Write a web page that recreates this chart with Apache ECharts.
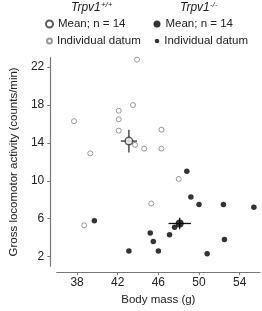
<!DOCTYPE html>
<html>
<head>
<meta charset="utf-8">
<script src="https://cdn.jsdelivr.net/npm/echarts@6/dist/echarts.min.js"></script>
<style>
  html, body { margin: 0; padding: 0; background: #fff; }
  #chart { width: 262px; height: 311px; }
</style>
</head>
<body>
<div id="chart"></div>
<script>
// Trpv1+/+ individual datum: [body mass (g), activity (counts/min)]
var wtPoints = [
  [37.7, 16.3], [39.3, 12.9], [42.1, 17.4], [42.1, 16.5], [42.1, 15.3],
  [43.5, 18.0], [43.9, 22.8], [43.7, 13.8], [44.6, 13.4], [46.3, 15.4],
  [46.3, 13.4], [48.0, 10.2], [45.3, 7.6], [38.7, 5.3]
];
// Trpv1-/- individual datum
var koPoints = [
  [48.8, 11.0], [49.2, 8.3], [50.0, 7.5], [52.4, 7.5], [55.4, 7.2],
  [47.6, 5.1], [47.1, 4.3], [45.2, 4.5], [45.5, 3.6], [46.0, 2.6],
  [43.1, 2.6], [52.5, 3.8], [50.8, 2.3], [39.7, 5.8]
];
// means: [x, y, xErr, yErr]
var wtMean = [43.1, 14.2, 0.8, 1.2];
var koMean = [48.1, 5.5, 1.1, 0.6];

var xTicks = [38, 42, 46, 50, 54];
var yTicks = [2, 6, 10, 14, 18, 22];

var legendNames = {
  wtMean: 'Mean; n = 14', wtInd: 'Individual datum',
  koMean: 'Mean; n = 14', koInd: 'Individual datum'
};

var chart = echarts.init(document.getElementById('chart'));

function errBar(color) {
  return function (params, api) {
    var x = api.value(0), y = api.value(1), ex = api.value(2), ey = api.value(3);
    var l = api.coord([x - ex, y]), r = api.coord([x + ex, y]);
    var t = api.coord([x, y + ey]), b = api.coord([x, y - ey]);
    var st = { stroke: color, lineWidth: 1.3 };
    return {
      type: 'group',
      children: [
        { type: 'line', shape: { x1: l[0], y1: l[1], x2: r[0], y2: r[1] }, style: st },
        { type: 'line', shape: { x1: t[0], y1: t[1], x2: b[0], y2: b[1] }, style: st }
      ]
    };
  };
}

var font = 'Liberation Sans, Arial, sans-serif';

function genoTitle(left, sup) {
  return {
    left: left, top: 1, padding: 0,
    text: '{a|Trpv1}{s|' + sup + '}',
    textStyle: {
      rich: {
        a: { fontFamily: font, fontStyle: 'italic', fontWeight: 'normal', fontSize: 12, color: '#222' },
        s: { fontFamily: font, fontStyle: 'italic', fontWeight: 'normal', fontSize: 8, color: '#222', verticalAlign: 'top', padding: [0, 0, 6, 0] }
      }
    }
  };
}

function legendRow(left, top, name, size) {
  return {
    left: left - size / 2, top: top, padding: 0, orient: 'horizontal',
    itemWidth: size, itemHeight: size, itemGap: 0,
    data: [name],
    formatter: function (n) { return legendNames[n]; },
    textStyle: { fontSize: 11.5, color: '#222', fontFamily: font }
  };
}

chart.setOption({
  animation: false,
  textStyle: { fontFamily: font },
  title: [genoTitle(71, '+/+'), genoTitle(180, '-/-')],
  legend: [
    legendRow(48.5, 18, 'wtMean', 7),
    legendRow(48.5, 35, 'wtInd', 5),
    legendRow(157, 18, 'koMean', 7),
    legendRow(157, 35, 'koInd', 4.5)
  ],
  grid: { left: 47.5, right: 2, top: 57.7, bottom: 42.1 },
  xAxis: {
    type: 'value', min: 36, max: 56, offset: 6,
    name: 'Body mass (g)', nameLocation: 'middle', nameGap: 20,
    nameTextStyle: { fontSize: 11.5, color: '#222' },
    splitLine: { show: false },
    axisLine: { lineStyle: { color: '#777', width: 1.2 } },
    axisTick: { customValues: xTicks, length: 3, lineStyle: { color: '#777' } },
    axisLabel: { customValues: xTicks, fontSize: 12, color: '#222', margin: 5 }
  },
  yAxis: {
    type: 'value', min: 1, max: 23, offset: 6.5,
    name: 'Gross locomotor activity (counts/min)', nameLocation: 'middle', nameGap: 24,
    nameTextStyle: { fontSize: 11.5, color: '#222' },
    splitLine: { show: false },
    axisLine: { lineStyle: { color: '#777', width: 1.2 } },
    axisTick: { customValues: yTicks, length: 3, lineStyle: { color: '#777' } },
    axisLabel: { customValues: yTicks, fontSize: 12, color: '#222', margin: 6 }
  },
  series: [
    {
      name: 'wtInd', type: 'scatter', data: wtPoints, symbolSize: 5,
      itemStyle: { color: '#fff', borderColor: '#808080', borderWidth: 1 }, z: 3
    },
    {
      name: 'koInd', type: 'scatter', data: koPoints, symbolSize: 5.5,
      itemStyle: { color: '#000' }, z: 3
    },
    {
      type: 'custom', data: [wtMean], renderItem: errBar('#333'), z: 4, silent: true
    },
    {
      type: 'custom', data: [koMean], renderItem: errBar('#111'), z: 4, silent: true
    },
    {
      name: 'wtMean', type: 'scatter', data: [wtMean.slice(0, 2)], symbolSize: 7.5,
      itemStyle: { color: '#fff', borderColor: '#333', borderWidth: 1.5 }, z: 5
    },
    {
      name: 'koMean', type: 'scatter', data: [koMean.slice(0, 2)], symbolSize: 8,
      itemStyle: { color: '#000' }, z: 5
    }
  ]
});
</script>
</body>
</html>
